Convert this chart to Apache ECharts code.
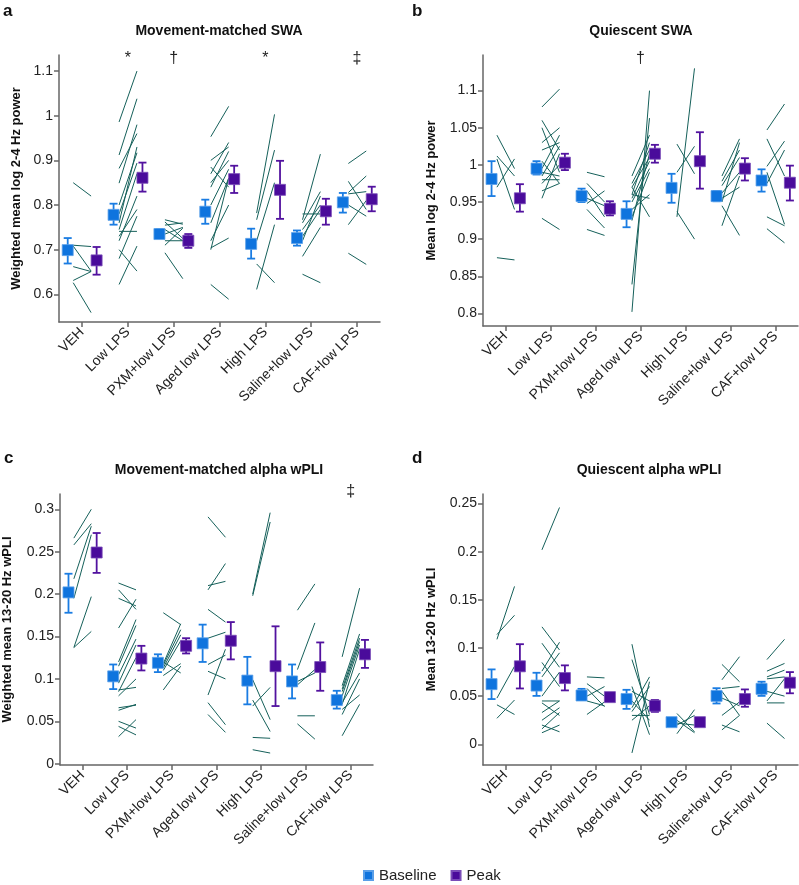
<!DOCTYPE html>
<html><head><meta charset="utf-8">
<script src="https://cdn.jsdelivr.net/npm/echarts@6/dist/echarts.min.js"></script>
<style>html,body{margin:0;padding:0;background:#fff}#c{width:799px;height:885px}</style>
</head><body><div id="c"></div>
<script>
const categories = ['VEH','Low LPS','PXM+low LPS','Aged low LPS','High LPS','Saline+low LPS','CAF+low LPS'];

// ---------- Panel a: Movement-matched SWA ----------
const aTicks = [0.6,0.7,0.8,0.9,1,1.1];
const aBaseMean = [0.699,0.778,0.735,0.785,0.713,0.726,0.806];
const aBaseLo   = [0.669,0.756,0.726,0.758,0.680,0.709,0.783];
const aBaseHi   = [0.726,0.803,0.746,0.812,0.747,0.743,0.827];
const aPeakMean = [0.676,0.861,0.720,0.858,0.834,0.786,0.813];
const aPeakLo   = [0.644,0.830,0.704,0.827,0.769,0.756,0.786];
const aPeakHi   = [0.706,0.895,0.735,0.888,0.899,0.814,0.841];
const aSubjBase = [
  [0.850,0.710,0.708,0.662,0.631,0.626],
  [0.986,0.912,0.882,0.849,0.800,0.780,0.760,0.745,0.741,0.730,0.720,0.700,0.680,0.622],
  [0.767,0.762,0.755,0.745,0.735,0.720,0.710,0.693],
  [0.953,0.900,0.885,0.870,0.850,0.840,0.800,0.760,0.720,0.700,0.704,0.622],
  [0.782,0.767,0.720,0.668,0.611],
  [0.767,0.780,0.760,0.745,0.730,0.720,0.685,0.645],
  [0.893,0.853,0.828,0.825,0.800,0.756,0.692]
];
const aSubjPeak = [
  [0.820,0.707,0.652,0.651,0.651,0.559],
  [1.100,1.038,0.960,0.980,0.917,0.894,0.930,0.870,0.741,0.790,0.820,0.652,0.775,0.708],
  [0.757,0.725,0.760,0.720,0.750,0.720,0.748,0.635],
  [1.021,0.930,0.840,0.940,0.900,0.920,0.880,0.860,0.800,0.860,0.726,0.589],
  [1.003,0.923,0.850,0.626,0.756],
  [0.914,0.780,0.830,0.800,0.790,0.820,0.750,0.626],
  [0.921,0.790,0.865,0.830,0.775,0.810,0.667]
];
const aSig = ['','*','\u2020','','*','','\u2021'];

// ---------- Panel b: Quiescent SWA ----------
const bTicks = [0.8,0.85,0.9,0.95,1,1.05,1.1];
const bBaseMean = [0.981,0.995,0.958,0.934,0.969,0.958,0.979];
const bBaseLo   = [0.958,0.987,0.950,0.916,0.949,0.951,0.964];
const bBaseHi   = [1.005,1.005,0.968,0.951,0.988,0.965,0.994];
const bPeakMean = [0.955,1.003,0.941,1.015,1.005,0.995,0.976];
const bPeakLo   = [0.937,0.993,0.932,1.003,0.968,0.979,0.952];
const bPeakHi   = [0.974,1.015,0.951,1.027,1.044,1.009,0.999];
const bSubjBase = [
  [1.040,1.012,1.008,0.970,0.875],
  [1.078,1.060,1.050,1.030,1.020,1.005,0.995,0.990,0.985,0.980,0.975,0.965,0.955,0.928],
  [0.990,0.975,0.965,0.955,0.948,0.940,0.913],
  [0.802,0.839,0.985,0.975,0.970,0.960,0.955,0.950,0.940,0.930,0.925,0.970,0.960],
  [0.930,1.028,0.990,0.937],
  [0.985,0.978,0.972,0.962,0.955,0.945,0.918,0.950],
  [1.047,1.035,0.998,0.990,0.975,0.930,0.914]
];
const bSubjPeak = [
  [0.995,0.985,0.940,1.008,0.872],
  [1.102,1.020,0.990,1.050,1.030,0.975,1.040,0.985,1.025,0.980,1.000,0.975,1.015,0.913],
  [0.984,0.950,0.930,0.945,0.965,0.915,0.905],
  [1.100,1.063,1.040,1.020,1.010,1.030,1.005,0.995,0.960,0.990,1.015,0.930,0.955],
  [1.130,0.988,1.025,0.900],
  [1.035,1.020,1.010,0.990,0.970,0.905,0.985,1.030],
  [1.082,0.985,1.032,0.920,1.020,0.918,0.895]
];
const bSig = ['','','','\u2020','','',''];

// ---------- Panel c: Movement-matched alpha wPLI ----------
const cTicks = [0,0.05,0.1,0.15,0.2,0.25,0.3];
const cBaseMean = [0.202,0.103,0.119,0.142,0.098,0.097,0.075];
const cBaseLo   = [0.178,0.088,0.108,0.120,0.070,0.077,0.065];
const cBaseHi   = [0.224,0.117,0.129,0.164,0.126,0.117,0.086];
const cPeakMean = [0.249,0.124,0.139,0.145,0.115,0.114,0.129];
const cPeakLo   = [0.225,0.110,0.130,0.123,0.068,0.086,0.113];
const cPeakHi   = [0.272,0.139,0.148,0.167,0.162,0.143,0.146];
const cSubjBase = [
  [0.266,0.258,0.218,0.195,0.137,0.137],
  [0.213,0.205,0.195,0.160,0.120,0.115,0.105,0.095,0.085,0.087,0.080,0.066,0.063,0.050,0.044,0.032],
  [0.178,0.118,0.116,0.113,0.110,0.120,0.104,0.087],
  [0.291,0.205,0.210,0.182,0.148,0.117,0.109,0.081,0.072,0.058],
  [0.200,0.198,0.099,0.068,0.075,0.031,0.0165],
  [0.181,0.111,0.097,0.093,0.0565,0.047],
  [0.126,0.092,0.088,0.085,0.080,0.070,0.072,0.064,0.058,0.033]
];
const cSubjPeak = [
  [0.300,0.283,0.280,0.270,0.197,0.156],
  [0.205,0.182,0.186,0.194,0.170,0.163,0.147,0.140,0.125,0.090,0.100,0.069,0.070,0.042,0.034,0.052],
  [0.164,0.165,0.158,0.152,0.145,0.107,0.118,0.115],
  [0.267,0.236,0.215,0.167,0.155,0.128,0.100,0.135,0.046,0.037],
  [0.296,0.285,0.052,0.090,0.038,0.030,0.0126],
  [0.212,0.166,0.107,0.111,0.0565,0.029],
  [0.207,0.153,0.148,0.144,0.140,0.135,0.107,0.081,0.100,0.070]
];
const cSig = ['','','','','','','\u2021'];

// ---------- Panel d: Quiescent alpha wPLI ----------
const dTicks = [0,0.05,0.1,0.15,0.2,0.25];
const dBaseMean = [0.0625,0.061,0.0507,0.047,0.023,0.0503,0.0576];
const dBaseLo   = [0.047,0.0503,0.046,0.0368,0.019,0.0424,0.0503];
const dBaseHi   = [0.0778,0.0743,0.0576,0.0566,0.027,0.0583,0.065];
const dPeakMean = [0.081,0.0688,0.049,0.040,0.023,0.047,0.064];
const dPeakLo   = [0.058,0.056,0.0455,0.0337,0.019,0.039,0.053];
const dPeakHi   = [0.104,0.082,0.053,0.046,0.026,0.057,0.075];
const dSubjBase = [
  [0.109,0.114,0.048,0.041,0.027],
  [0.202,0.122,0.105,0.085,0.076,0.070,0.050,0.045,0.043,0.033,0.025,0.020,0.016,0.012],
  [0.070,0.063,0.058,0.050,0.045,0.031],
  [0.104,0.088,0.060,0.055,0.045,0.038,0.034,0.025,-0.009,0.030],
  [0.032,0.011,0.020,0.025,0.022],
  [0.083,0.067,0.058,0.055,0.048,0.030,0.020,0.015],
  [0.088,0.076,0.070,0.068,0.055,0.045,0.043,0.022]
];
const dSubjPeak = [
  [0.164,0.134,0.081,0.031,0.046],
  [0.246,0.098,0.080,0.060,0.106,0.095,0.075,0.045,0.030,0.045,0.038,0.013,0.033,0.020],
  [0.069,0.050,0.039,0.060,0.040,0.044],
  [0.018,0.031,0.010,0.045,0.025,0.070,0.060,0.040,0.065,0.030],
  [0.013,0.036,0.030,0.012,0.020],
  [0.065,0.091,0.060,0.030,0.040,0.044,0.013,0.030],
  [0.109,0.084,0.077,0.070,0.050,0.068,0.043,0.006]
];
const dSig = ['','','','','','',''];

const BLUE = '#0f74de', PURPLE = '#4a0b9b', LINE = '#15605a', AXIS = '#666';
const FONT = 'Liberation Sans, Arial, sans-serif';
const OFF_B = -0.31, OFF_P = 0.32, L0 = -0.19, L1 = 0.2;

const panels = [
  {grid:{left:59,right:419,top:55,bottom:563}, min:0.538, max:1.136, ticks:aTicks, name:'Weighted mean log 2-4 Hz power', gap:36,
   bm:aBaseMean,bl:aBaseLo,bh:aBaseHi,pm:aPeakMean,pl:aPeakLo,ph:aPeakHi,sb:aSubjBase,sp:aSubjPeak,sig:aSig,sigOff:12},
  {grid:{left:483,right:1,top:55,bottom:559}, min:0.783, max:1.148, ticks:bTicks, name:'Mean log 2-4 Hz power', gap:45,
   bm:bBaseMean,bl:bBaseLo,bh:bBaseHi,pm:bPeakMean,pl:bPeakLo,ph:bPeakHi,sb:bSubjBase,sp:bSubjPeak,sig:bSig,sigOff:12},
  {grid:{left:59,right:426,top:494,bottom:120}, min:-0.0015, max:0.318, ticks:cTicks, name:'Weighted mean 13-20 Hz wPLI', gap:46,
   bm:cBaseMean,bl:cBaseLo,bh:cBaseHi,pm:cPeakMean,pl:cPeakLo,ph:cPeakHi,sb:cSubjBase,sp:cSubjPeak,sig:cSig,sigOff:6},
  {grid:{left:483,right:1,top:494,bottom:120}, min:-0.0215, max:0.26, ticks:dTicks, name:'Mean 13-20 Hz wPLI', gap:45,
   bm:dBaseMean,bl:dBaseLo,bh:dBaseHi,pm:dPeakMean,pl:dPeakLo,ph:dPeakHi,sb:dSubjBase,sp:dSubjPeak,sig:dSig,sigOff:12}
];

const idx = categories.map((_, i) => i);
const grids = [], xAxes = [], yAxes = [], series = [];

function errRender(color){
  return function(params, api){
    const x = api.value(0), lo = api.value(1), hi = api.value(2);
    const p1 = api.coord([x, lo]), p2 = api.coord([x, hi]);
    const w = 4, st = {stroke: color, lineWidth: 1.8};
    return {type:'group', children:[
      {type:'line', shape:{x1:p1[0],y1:p1[1],x2:p2[0],y2:p2[1]}, style:st},
      {type:'line', shape:{x1:p1[0]-w,y1:p1[1],x2:p1[0]+w,y2:p1[1]}, style:st},
      {type:'line', shape:{x1:p2[0]-w,y1:p2[1],x2:p2[0]+w,y2:p2[1]}, style:st}
    ]};
  };
}

panels.forEach((p, k) => {
  grids.push(Object.assign({containLabel:false}, p.grid));
  xAxes.push({
    type:'value', gridIndex:k, min:-0.5, max:6.5,
    axisLine:{onZero:false, lineStyle:{color:AXIS, width:1.5}},
    axisTick:{customValues:idx, length:5, lineStyle:{color:AXIS, width:1.5}},
    axisLabel:{customValues:idx, rotate:45, fontSize:14, fontFamily:FONT, color:'#222', margin:8,
      formatter:v => categories[Math.round(v)]},
    splitLine:{show:false}
  });
  yAxes.push({
    type:'value', gridIndex:k, min:p.min, max:p.max,
    name:p.name, nameLocation:'middle', nameRotate:90, nameGap:p.gap,
    nameTextStyle:{fontSize:13, fontWeight:'bold', fontFamily:FONT, color:'#111'},
    axisLine:{show:true, onZero:false, lineStyle:{color:AXIS, width:1.5}},
    axisTick:{show:true, customValues:p.ticks, length:5, lineStyle:{color:AXIS, width:1.5}},
    axisLabel:{customValues:p.ticks, fontSize:14, fontFamily:FONT, color:'#222', margin:6},
    splitLine:{show:false}
  });
  const subj = [];
  p.sb.forEach((arr, g) => arr.forEach((b, j) => subj.push([g, b, p.sp[g][j]])));
  series.push({
    type:'custom', name:'subjects'+k, xAxisIndex:k, yAxisIndex:k, data:subj, silent:true, z:1,
    encode:{x:0, y:[1,2]},
    renderItem:(params, api) => {
      const g = api.value(0);
      const a = api.coord([g + L0, api.value(1)]), b = api.coord([g + L1, api.value(2)]);
      return {type:'line', shape:{x1:a[0],y1:a[1],x2:b[0],y2:b[1]}, style:{stroke:LINE, lineWidth:1}};
    }
  });
  series.push({
    type:'custom', name:'Baseline err'+k, xAxisIndex:k, yAxisIndex:k, z:2, silent:true, encode:{x:0, y:[1,2]},
    data: idx.map(g => [g + OFF_B, p.bl[g], p.bh[g]]), renderItem: errRender('#1a7ce2')
  });
  series.push({
    type:'custom', name:'Peak err'+k, xAxisIndex:k, yAxisIndex:k, z:2, silent:true, encode:{x:0, y:[1,2]},
    data: idx.map(g => [g + OFF_P, p.pl[g], p.ph[g]]), renderItem: errRender('#52129f')
  });
  series.push({
    type:'scatter', name:'Baseline', xAxisIndex:k, yAxisIndex:k, z:3, symbol:'rect', symbolSize:11,
    itemStyle:{color:BLUE, borderColor:'#5a9fe8', borderWidth:0.8, opacity:1},
    data: idx.map(g => [g + OFF_B, p.bm[g]])
  });
  series.push({
    type:'scatter', name:'Peak', xAxisIndex:k, yAxisIndex:k, z:3, symbol:'rect', symbolSize:11,
    itemStyle:{color:PURPLE, borderColor:'#7a4cb8', borderWidth:0.8, opacity:1},
    data: idx.map(g => [g + OFF_P, p.pm[g]])
  });
  series.push({
    type:'custom', name:'sig'+k, xAxisIndex:k, yAxisIndex:k, z:4, silent:true, clip:false,
    encode:{x:0, y:1},
    data: idx.filter(g => p.sig[g]).map(g => [g, p.max, p.sig[g]]),
    renderItem:(params, api) => {
      const pt = api.coord([api.value(0), api.value(1)]);
      const txt = p.sig.filter(s => s)[params.dataIndex];
      return {type:'text', x:pt[0], y:pt[1] + p.sigOff,
        style:{text:txt, fill:'#222', font:'16px ' + FONT, align:'center', verticalAlign:'bottom'}};
    }
  });
});

const titles = [
  {text:'Movement-matched SWA', x:219, y:31},
  {text:'Quiescent SWA', x:641, y:31},
  {text:'Movement-matched alpha wPLI', x:219, y:470},
  {text:'Quiescent alpha wPLI', x:649, y:470}
];
const letters = [
  {text:'a', x:3, y:11}, {text:'b', x:412, y:11}, {text:'c', x:4, y:458}, {text:'d', x:412, y:458}
];
const graphics = [];
titles.forEach(t => graphics.push({type:'text', x:t.x, y:t.y,
  style:{text:t.text, font:'bold 14px ' + FONT, fill:'#111', align:'center', verticalAlign:'middle'}}));
letters.forEach(t => graphics.push({type:'text', x:t.x, y:t.y,
  style:{text:t.text, font:'bold 17px ' + FONT, fill:'#111', align:'left', verticalAlign:'middle'}}));

const chart = echarts.init(document.getElementById('c'), null, {renderer:'canvas'});
chart.setOption({
  animation:false,
  backgroundColor:'#fff',
  grid: grids, xAxis: xAxes, yAxis: yAxes, series: series,
  graphic: graphics,
  legend: {data:['Baseline','Peak'], left:363, top:868, padding:0, icon:'rect', itemWidth:9, itemHeight:9, itemGap:14,
    textStyle:{fontSize:15, fontFamily:FONT, color:'#222', padding:[0,0,0,1]}, selectedMode:false}
});
</script></body></html>
